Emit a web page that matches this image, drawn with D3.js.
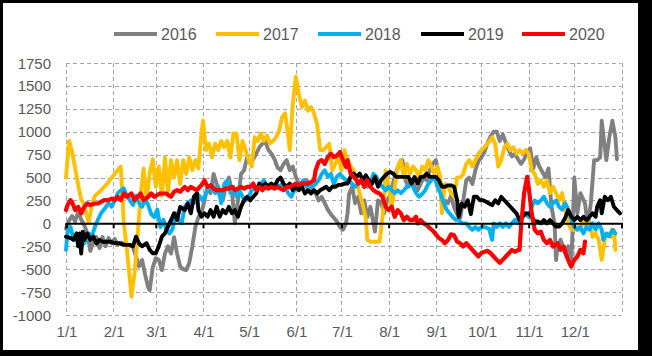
<!DOCTYPE html>
<html><head><meta charset="utf-8">
<script src="https://cdn.jsdelivr.net/npm/d3@7"></script>
<style>html,body{margin:0;padding:0;background:#fff;}svg{display:block;}</style>
</head><body>
<svg id="chart" width="652" height="356"></svg>
<script>
// Month starts (day of year) and tick labels
const monthDays = [0,31,59,90,120,151,181,212,243,273,304,334];
const monthLabels = ["1/1","2/1","3/1","4/1","5/1","6/1","7/1","8/1","9/1","10/1","11/1","12/1"];
const yTicks = [-1000,-750,-500,-250,0,250,500,750,1000,1250,1500,1750];
const seriesNames = ["2016","2017","2018","2019","2020"];
const seriesColors = ["#808080","#FFC000","#00B0F0","#000000","#FF0000"];

// [day of year, value]
const s2016 = [[0,-60],[2,30],[4,80],[6,20],[8,130],[10,40],[12,-20],[14,-110],[16,-300],[18,-200],[20,-150],[22,-270],[24,-150],[26,-250],[28,-160],[30,-220],[32,-170],[34,-230],[36,-210],[38,-220],[40,-230],[42,-240],[44,-260],[46,-360],[48,-470],[50,-400],[52,-560],[54,-700],[55,-730],[57,-480],[59,-380],[61,-400],[63,-510],[65,-330],[67,-250],[69,-330],[71,-150],[73,-330],[75,-470],[77,-500],[79,-510],[81,-430],[83,-250],[85,-40],[87,70],[89,110],[91,250],[93,400],[95,330],[97,540],[99,430],[101,300],[103,250],[105,400],[107,500],[109,350],[111,0],[113,250],[115,540],[117,580],[119,720],[121,660],[123,700],[125,760],[127,830],[129,870],[131,890],[133,800],[135,760],[137,700],[139,610],[141,580],[143,650],[145,690],[147,580],[149,620],[151,510],[153,430],[155,400],[158,470],[160,430],[162,360],[164,330],[166,250],[168,290],[170,220],[172,150],[174,100],[176,60],[178,20],[180,-40],[182,-70],[184,0],[185,110],[186,320],[188,400],[190,220],[192,290],[194,110],[196,250],[198,70],[200,180],[203,-90],[205,250],[207,230],[209,110],[211,250],[213,310],[215,450],[217,560],[219,650],[221,690],[223,470],[225,400],[227,470],[229,400],[231,360],[233,430],[235,500],[237,470],[239,580],[241,650],[243,690],[245,540],[247,200],[249,250],[251,220],[253,300],[255,170],[257,100],[259,60],[261,250],[263,470],[265,500],[267,430],[269,580],[271,680],[273,720],[275,780],[277,880],[279,950],[281,1000],[283,1000],[285,900],[287,970],[289,880],[291,800],[293,730],[295,760],[297,700],[299,650],[301,700],[303,780],[305,820],[307,600],[309,720],[311,620],[313,560],[315,500],[317,600],[319,180],[321,0],[322,-400],[323,-250],[325,-180],[328,-330],[330,-250],[332,-470],[334,500],[336,110],[338,330],[341,220],[343,-40],[345,250],[347,690],[349,690],[351,720],[352,1120],[355,690],[357,940],[359,1120],[361,940],[362,700]];
const s2017 = [[0,500],[2,900],[4,780],[6,600],[8,420],[10,260],[12,200],[14,60],[15,10],[17,200],[19,300],[23,360],[27,430],[31,520],[36,620],[38,0],[40,-280],[42,-620],[43,-800],[45,-550],[47,-150],[49,300],[51,600],[53,250],[55,550],[57,700],[59,400],[61,620],[63,300],[65,720],[67,330],[69,690],[71,500],[73,690],[75,430],[77,690],[79,540],[81,720],[83,580],[85,690],[87,600],[89,980],[90,1120],[92,800],[94,870],[96,720],[98,870],[100,800],[102,900],[104,830],[106,900],[108,720],[110,980],[112,980],[114,690],[116,900],[118,800],[120,690],[122,620],[124,940],[126,900],[128,980],[130,900],[132,960],[134,870],[136,900],[138,940],[140,1010],[142,1160],[144,1200],[146,950],[147,800],[149,1300],[151,1600],[153,1410],[155,1270],[157,1340],[159,1230],[161,1270],[163,1200],[165,1080],[167,800],[169,800],[171,830],[173,870],[175,580],[177,650],[179,720],[181,580],[183,800],[185,690],[187,620],[189,580],[191,450],[193,320],[195,200],[197,60],[198,-180],[200,-200],[203,-200],[206,-200],[207,-70],[209,250],[210,580],[212,420],[214,180],[216,400],[218,620],[220,690],[222,500],[224,650],[226,540],[228,620],[230,580],[232,500],[234,620],[236,580],[238,690],[240,620],[242,540],[244,620],[246,500],[247,110],[249,430],[251,400],[253,330],[255,290],[257,500],[259,500],[261,540],[263,650],[265,690],[267,620],[269,690],[271,760],[273,800],[275,830],[277,870],[280,940],[282,870],[284,620],[286,690],[288,830],[290,870],[292,800],[294,830],[296,760],[298,800],[300,760],[302,800],[304,760],[306,580],[308,540],[310,430],[312,470],[314,400],[316,470],[318,330],[320,400],[322,330],[324,250],[326,330],[328,150],[330,0],[332,-70],[334,-70],[336,-40],[338,-70],[340,40],[342,-40],[344,0],[346,-150],[348,-110],[350,-180],[352,-400],[354,-180],[356,-110],[358,-150],[360,-70],[361,-290]];
const s2018 = [[0,-290],[1,-100],[3,-40],[5,-180],[7,-110],[8,-250],[10,-150],[12,-220],[15,-110],[17,-140],[19,-40],[21,40],[23,110],[25,150],[28,220],[30,180],[32,250],[34,330],[36,360],[38,380],[40,300],[42,250],[44,200],[46,300],[48,220],[50,180],[52,260],[54,200],[56,100],[58,70],[60,150],[62,-40],[64,40],[66,-80],[68,-110],[70,-60],[72,110],[74,40],[76,0],[78,180],[80,220],[82,250],[84,220],[86,330],[88,290],[90,250],[92,330],[94,380],[96,430],[98,330],[100,400],[102,220],[104,430],[106,470],[108,330],[110,400],[112,290],[114,360],[116,290],[118,250],[120,290],[122,360],[124,390],[126,400],[128,430],[130,470],[132,400],[134,430],[136,400],[138,430],[140,400],[142,430],[144,400],[146,330],[148,290],[150,360],[152,400],[154,430],[156,470],[158,400],[160,430],[162,400],[164,430],[166,470],[168,540],[170,580],[172,510],[174,540],[176,430],[178,510],[180,540],[182,500],[184,470],[186,470],[188,430],[190,400],[192,430],[194,470],[196,430],[198,400],[200,430],[202,540],[204,510],[206,430],[208,400],[210,360],[212,400],[214,360],[216,330],[218,360],[220,330],[222,360],[224,400],[226,430],[228,400],[230,330],[232,290],[234,320],[236,360],[238,430],[240,470],[242,510],[244,400],[246,330],[248,230],[250,150],[252,110],[254,70],[256,40],[258,40],[260,0],[263,0],[265,-40],[267,-70],[269,-40],[271,-70],[273,-40],[275,-40],[278,-60],[280,-180],[281,0],[283,-40],[285,0],[287,-40],[289,0],[291,-40],[293,0],[295,40],[297,0],[300,70],[302,110],[304,70],[306,180],[308,250],[310,220],[312,250],[314,290],[316,220],[318,180],[320,220],[322,250],[324,180],[326,150],[328,220],[330,150],[332,40],[334,-40],[336,-70],[338,-40],[340,-110],[342,-40],[344,-70],[346,0],[348,-70],[350,0],[352,-70],[353,-180],[355,-110],[357,-140],[359,-70],[361,-110]];
const s2019 = [[0,-145],[3,-160],[5,-180],[7,-110],[8,-250],[9,-110],[10,-330],[11,-90],[12,-180],[14,-110],[16,-180],[18,-145],[20,-220],[22,-180],[24,-200],[26,-200],[29,-200],[31,-210],[33,-217],[35,-217],[37,-230],[40,-235],[42,-235],[44,-250],[46,-145],[48,-220],[50,-250],[53,-217],[55,-290],[57,-326],[59,-326],[61,-250],[63,-145],[65,-110],[67,-36],[69,36],[71,110],[73,36],[75,180],[78,145],[80,217],[82,110],[84,290],[86,330],[87,145],[89,72],[91,110],[93,72],[95,145],[97,72],[99,180],[101,72],[103,145],[105,110],[107,180],[109,110],[111,145],[113,72],[115,180],[117,253],[119,290],[121,250],[123,290],[125,326],[127,434],[129,400],[131,434],[133,400],[135,434],[137,400],[139,470],[141,500],[143,430],[145,400],[147,434],[149,362],[151,400],[153,362],[155,400],[157,326],[159,362],[161,326],[163,362],[165,326],[167,362],[169,380],[171,400],[173,362],[175,400],[177,400],[179,420],[181,420],[183,434],[185,434],[187,507],[189,543],[191,507],[193,543],[195,470],[197,525],[199,470],[201,430],[203,507],[205,400],[207,470],[209,507],[211,543],[213,561],[215,543],[217,507],[219,507],[221,507],[223,507],[225,507],[227,434],[229,507],[231,434],[233,507],[235,507],[237,543],[239,507],[241,507],[243,507],[245,470],[247,400],[249,400],[251,415],[253,415],[255,400],[257,250],[258,72],[260,217],[262,181],[264,253],[266,100],[268,290],[270,290],[272,253],[274,253],[276,235],[278,217],[280,199],[282,253],[284,217],[286,290],[288,253],[290,217],[292,181],[294,145],[296,109],[298,36],[300,72],[302,109],[304,109],[306,72],[308,20],[310,20],[312,0],[314,36],[316,0],[318,36],[320,0],[322,-36],[324,-36],[326,0],[328,60],[330,145],[332,72],[334,36],[336,72],[338,36],[340,72],[342,36],[344,72],[346,110],[348,72],[349,181],[351,253],[352,109],[354,290],[356,253],[358,290],[360,181],[362,145],[364,109]];
const s2020 = [[0,145],[1,200],[3,253],[4,230],[6,145],[8,180],[10,109],[12,180],[14,217],[16,200],[19,217],[21,217],[23,235],[25,253],[28,253],[30,270],[32,253],[34,290],[36,253],[38,326],[40,290],[43,326],[45,253],[47,290],[49,326],[51,253],[54,290],[56,326],[58,290],[60,310],[62,326],[64,326],[66,326],[67,310],[69,290],[71,345],[73,362],[75,345],[77,380],[78,398],[80,362],[82,398],[84,380],[86,362],[88,400],[89,416],[91,470],[93,398],[95,416],[97,380],[99,362],[101,362],[103,362],[105,380],[107,380],[109,398],[111,362],[113,380],[115,398],[117,380],[119,398],[121,398],[123,434],[125,362],[127,398],[129,362],[131,398],[133,380],[135,398],[137,380],[139,398],[141,380],[143,362],[145,398],[147,398],[149,416],[151,434],[153,416],[155,434],[157,434],[159,434],[161,450],[163,470],[164,579],[166,670],[168,690],[170,650],[172,724],[174,760],[176,724],[178,740],[180,778],[182,690],[184,615],[185,690],[187,543],[189,507],[191,470],[192,434],[194,470],[196,398],[198,470],[200,398],[202,362],[204,340],[206,326],[208,290],[210,181],[212,145],[214,181],[216,72],[218,145],[220,109],[222,36],[224,72],[226,36],[228,36],[230,72],[231,0],[233,36],[235,0],[237,-20],[239,-50],[241,-80],[243,-120],[245,-160],[247,-181],[249,-217],[251,-181],[253,-120],[255,-130],[257,-200],[259,-217],[261,-253],[263,-217],[265,-253],[267,-290],[269,-326],[271,-362],[273,-320],[275,-310],[277,-300],[279,-326],[281,-362],[283,-398],[285,-430],[287,-398],[289,-362],[291,-326],[293,-290],[295,-310],[297,-290],[298,-290],[299,-36],[301,326],[303,507],[304,400],[306,109],[308,-72],[310,-109],[312,-90],[314,-181],[316,-217],[318,-181],[320,-253],[323,-217],[325,-290],[327,-253],[329,-362],[331,-440],[332,-470],[334,-398],[336,-362],[338,-290],[340,-326],[341,-200]];
const allSeries = [s2016, s2017, s2018, s2019, s2020];

const svg = d3.select("#chart");
const FONT = "'Liberation Sans', Arial, sans-serif";
const TXT = "#595959";

// frame
svg.append("rect").attr("x",0).attr("y",0).attr("width",652).attr("height",356).attr("fill","#000");
svg.append("rect").attr("x",3).attr("y",3).attr("width",635).attr("height",347).attr("fill","#fff");

const x = d3.scaleLinear().domain([0,365]).range([66,621.5]);
const y = d3.scaleLinear().domain([-1000,1750]).range([315,63]);

// horizontal grid
svg.append("g").selectAll("line").data(yTicks.filter(v=>v!==0)).join("line")
  .attr("x1",x(0)).attr("x2",x(365)).attr("y1",d=>Math.round(y(d))+0.5).attr("y2",d=>Math.round(y(d))+0.5)
  .attr("stroke","#a6a6a6").attr("stroke-width",1).attr("stroke-dasharray","4,3");
// vertical grid
svg.append("g").selectAll("line").data(monthDays.concat([365])).join("line")
  .attr("x1",d=>Math.round(x(d))+0.5).attr("x2",d=>Math.round(x(d))+0.5).attr("y1",y(1750)).attr("y2",y(-1000))
  .attr("stroke","#a6a6a6").attr("stroke-width",1).attr("stroke-dasharray","4,3");

// y labels
svg.append("g").selectAll("text").data(yTicks).join("text")
  .attr("x",51).attr("y",d=>y(d)+5.5).attr("text-anchor","end")
  .attr("font-family",FONT).attr("font-size",15).attr("fill",TXT)
  .text(d=>String(d));
// x labels
svg.append("g").selectAll("text").data(monthDays).join("text")
  .attr("x",d=>x(d)+1).attr("y",337).attr("text-anchor","middle")
  .attr("font-family",FONT).attr("font-size",15).attr("fill",TXT)
  .text((d,i)=>monthLabels[i]);

// lines
const line = d3.line().x(d=>x(d[0])).y(d=>y(d[1]));
const lg = svg.append("g");
allSeries.forEach((s,i)=>{
  lg.append("path").datum(s).attr("d",line).attr("fill","none")
    .attr("stroke",seriesColors[i]).attr("stroke-width",i===4?4.2:3.9)
    .attr("stroke-linejoin","round").attr("stroke-linecap","round");
});

// zero axis with ticks
const ax = d3.axisBottom(x).tickValues(monthDays.concat([365])).tickSize(5).tickFormat("");
const axg = svg.append("g").attr("transform",`translate(0,${y(0)})`).call(ax);
axg.select(".domain").attr("stroke","#000").attr("stroke-width",2);
axg.selectAll(".tick line").attr("stroke","#000").attr("stroke-width",2);

// legend
const legX = [114,216,318,421,522];
const leg = svg.append("g");
seriesNames.forEach((n,i)=>{
  leg.append("line").attr("x1",legX[i]).attr("x2",legX[i]+43).attr("y1",34).attr("y2",34)
    .attr("stroke",seriesColors[i]).attr("stroke-width",4);
  leg.append("text").attr("x",legX[i]+47).attr("y",40).attr("font-family",FONT)
    .attr("font-size",16).attr("fill",TXT).text(n);
});
</script>
</body></html>
